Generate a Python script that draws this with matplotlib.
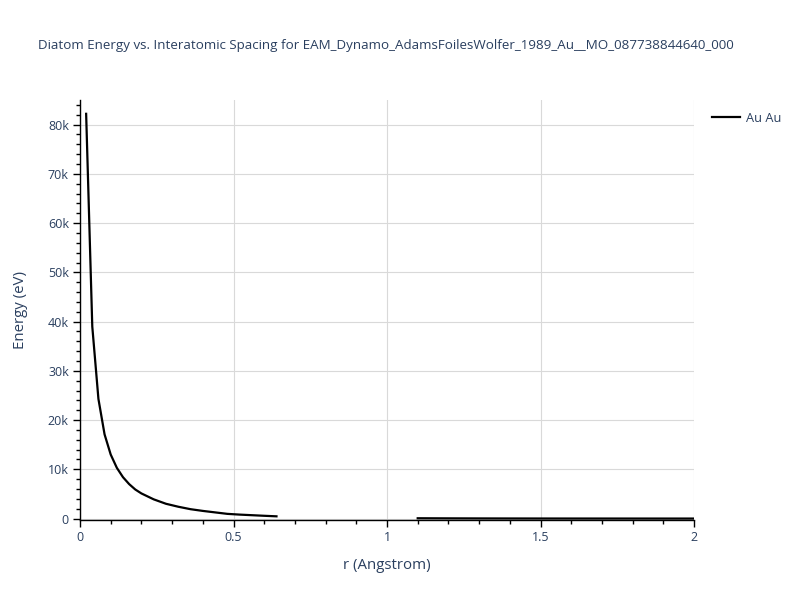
import numpy as np
import matplotlib.pyplot as plt
from matplotlib.ticker import FuncFormatter, MultipleLocator

plt.rcParams['font.family'] = ['Open Sans', 'DejaVu Sans']

# near-field part of the curve (r in Angstrom, E in eV)
r_near = [0.02, 0.04, 0.06, 0.08, 0.10, 0.12, 0.14, 0.16, 0.18, 0.20,
          0.24, 0.28, 0.32, 0.36, 0.40, 0.44, 0.48, 0.52, 0.56, 0.60, 0.64]
e_near = [82200, 39000, 24300, 17100, 13000, 10300, 8400, 7000, 5900, 5100,
          3900, 3000, 2400, 1900, 1550, 1250, 950, 800, 680, 560, 450]

# far-field part, after the gap
r_far = [1.1, 1.2, 1.3, 1.4, 1.5, 1.6, 1.7, 1.8, 1.9, 2.0]
e_far = [60, 40, 25, 15, 8, 4, 2, 0, -2, -3]

label = "Au Au"
title = "Diatom Energy vs. Interatomic Spacing for EAM_Dynamo_AdamsFoilesWolfer_1989_Au__MO_087738844640_000"

txt = '#2a3f5f'

fig = plt.figure(figsize=(8, 6), dpi=100)
ax = fig.add_axes([0.1, 0.1333, 0.7675, 0.7])

r_all = r_near + [np.nan] + r_far
e_all = e_near + [np.nan] + e_far
ax.plot(r_all, e_all, color='black', lw=1.6, label=label)

ax.set_xlim(0, 2)
ax.set_ylim(-300, 85000)

ax.xaxis.set_major_locator(MultipleLocator(0.5))
ax.xaxis.set_minor_locator(MultipleLocator(0.1))
ax.yaxis.set_major_locator(MultipleLocator(10000))
ax.yaxis.set_minor_locator(MultipleLocator(2000))
ax.xaxis.set_major_formatter(FuncFormatter(lambda v, p: f"{v:g}"))
ax.yaxis.set_major_formatter(FuncFormatter(lambda v, p: "0" if v == 0 else f"{v/1000:g}k"))

ax.grid(True, which='major', color='#d9d9d9', lw=0.8)
ax.set_axisbelow(True)
for s in ['top', 'right']:
    ax.spines[s].set_visible(False)
for s in ['left', 'bottom']:
    ax.spines[s].set_color('black')
    ax.spines[s].set_linewidth(1)

ax.tick_params(which='major', direction='out', length=5, width=1, color='black',
               labelsize=9, labelcolor=txt, pad=3)
ax.tick_params(which='minor', direction='out', length=3, width=1, color='black')

ax.set_xlabel("r (Angstrom)", fontsize=10.8, color=txt, labelpad=10)
ax.set_ylabel("Energy (eV)", fontsize=10.8, color=txt, labelpad=14)

fig.text(0.4825, 0.925, title, ha='center', va='center', fontsize=9.6, color=txt)

ax.legend(loc='upper left', bbox_to_anchor=(1.01, 1.0), frameon=False,
          fontsize=9.2, labelcolor=txt, handlelength=2.2, handletextpad=0.5)

fig.savefig('out.png', dpi=100)
